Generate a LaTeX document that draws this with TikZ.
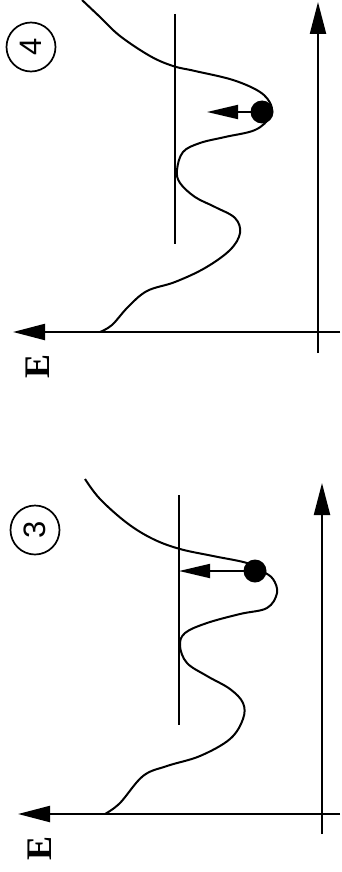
\documentclass[tikz,border=0pt]{standalone}
\usepackage{fontspec}
\setmainfont{Liberation Serif}
\newfontfamily\digitfont{Liberation Sans}
\usetikzlibrary{arrows.meta}
\tikzset{
  axis/.style={line width=2.2pt,-{Triangle[length=32pt,width=16pt]}},
  level/.style={line width=1.6pt},
  pot/.style={line width=2pt},
  ball/.style={circle,fill=black,inner sep=0pt,minimum size=23pt},
  push/.style={line width=1.8pt,-{Triangle[length=31pt,width=14pt]}},
  elabel/.style={rotate=90,font=\fontsize{36}{36}\selectfont\bfseries,inner sep=0pt},
  numcirc/.style={circle,draw,line width=1.7pt,minimum size=49pt,inner sep=0pt,rotate=90,font=\digitfont\fontsize{31}{31}\selectfont}
}
\begin{document}
\begin{tikzpicture}[x=1pt,y=-1pt]
\useasboundingbox (0,0) rectangle (342,872);
% ---------- panel 4 (top) ----------
\coordinate (a4r) at (340,332);
\coordinate (a4l) at (13,332);
\coordinate (v4b) at (318,353);
\coordinate (v4t) at (318,2);
\draw[axis] (a4r) -- (a4l);
\draw[axis] (v4b) -- (v4t);
\coordinate (l4a) at (175,14);
\coordinate (l4b) at (175,244);
\draw[level] (l4a) -- (l4b);
\draw[pot] plot[smooth,tension=0.6] coordinates {(100,332) (112,325) (128,307) (147,291) (175,282) (205,268) (230,250) (240,233) (235,218) (215,207) (195,197) (180,183) (177,170) (183,152) (200,143) (225,137) (255,130) (270,117) (271,105) (260,92) (233,80) (195,71) (173,66) (150,56) (120,36) (100,17) (82,0)};
\node[ball] (b4) at (262,112) {};
\coordinate (t4) at (207,112);
\draw[push] (b4.center) -- (t4);
\node[numcirc] (n4) at (31,47) {4};
\node[elabel] (e4) at (38,366) {E};
% ---------- panel 3 (bottom) ----------
\coordinate (a3r) at (340,814);
\coordinate (a3l) at (18,814);
\coordinate (v3b) at (322,834);
\coordinate (v3t) at (322,483);
\draw[axis] (a3r) -- (a3l);
\draw[axis] (v3b) -- (v3t);
\coordinate (l3a) at (179,495);
\coordinate (l3b) at (179,725);
\draw[level] (l3a) -- (l3b);
\draw[pot] plot[smooth,tension=0.6] coordinates {(105,814) (120,803) (143,776) (167,766) (200,756) (230,739) (243,719) (243,703) (230,689) (207,676) (187,663) (180,646) (185,633) (207,623) (240,614) (267,608) (277,593) (273,579) (262,571) (247,563) (213,556) (180,549) (153,539) (127,523) (100,499) (85,479)};
\node[ball] (b3) at (255,571) {};
\coordinate (t3) at (179,571);
\draw[push] (b3.center) -- (t3);
\node[numcirc] (n3) at (35,530) {3};
\node[elabel] (e3) at (40,848) {E};
\end{tikzpicture}
\end{document}
